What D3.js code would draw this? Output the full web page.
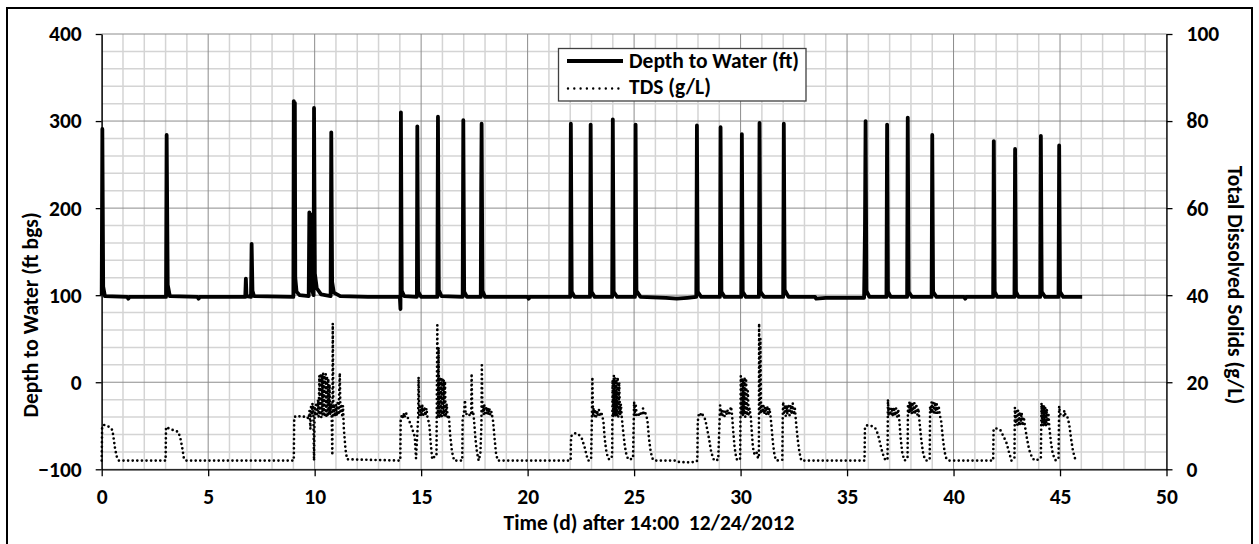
<!DOCTYPE html>
<html>
<head>
<meta charset="utf-8">
<script src="https://cdn.jsdelivr.net/npm/d3@7"></script>
<style>
  html, body { margin: 0; padding: 0; background: #fff; }
  svg { display: block; }
  text { font-family: Carlito, Calibri, "Open Sans", sans-serif; font-weight: 700; white-space: pre; }
</style>
</head>
<body>
<svg id="chart" width="1259" height="544"></svg>
<script>
// ---------------- data ----------------
const xTicks = [0, 5, 10, 15, 20, 25, 30, 35, 40, 45, 50];
const leftTicks = [-100, 0, 100, 200, 300, 400];
const rightTicks = [0, 20, 40, 60, 80, 100];
const xTitle = "Time (d) after 14:00  12/24/2012";
const leftTitle = "Depth to Water (ft bgs)";
const rightTitle = "Total Dissolved Solids (g/L)";
const seriesNames = ["Depth to Water (ft)", "TDS (g/L)"];

// Depth to water (ft bgs): [day, ft]
const depth = [
  [0.0, 100], [0.03, 291], [0.07, 110], [0.15, 99], [1.2, 98], [1.25, 96], [1.3, 98],
  [3.02, 98], [3.05, 284], [3.1, 112], [3.2, 99], [4.5, 98], [4.55, 96], [4.6, 98],
  [6.74, 98], [6.77, 119], [6.8, 99], [7.01, 98], [7.04, 159], [7.08, 105], [7.15, 99],
  [9.0, 98], [9.02, 323], [9.05, 300], [9.07, 321], [9.09, 120], [9.15, 104], [9.3, 100],
  [9.72, 99], [9.75, 195], [9.78, 120], [9.8, 193], [9.83, 110], [9.95, 100],
  [9.97, 315], [10.01, 125], [10.1, 108], [10.3, 101], [10.75, 99], [10.78, 287],
  [10.82, 115], [10.9, 103], [11.2, 99], [12.5, 98],
  [14.0, 98], [14.03, 84], [14.05, 310], [14.09, 105], [14.2, 99],
  [14.8, 98], [14.82, 294], [14.86, 104], [15.0, 98],
  [15.76, 98], [15.79, 305], [15.83, 106], [15.95, 99],
  [16.95, 98], [16.98, 301], [17.02, 104], [17.15, 98],
  [17.8, 98], [17.82, 222], [17.84, 297], [17.88, 105], [18.0, 98],
  [20.0, 98], [20.05, 96], [20.1, 98],
  [22.0, 98], [22.03, 297], [22.07, 104], [22.2, 98],
  [22.93, 98], [22.96, 296], [23.0, 104], [23.15, 98],
  [23.97, 98], [24.0, 302], [24.04, 104], [24.2, 98],
  [25.04, 98], [25.07, 296], [25.11, 105], [25.3, 98],
  [26.5, 97], [27.0, 96], [27.5, 97],
  [27.92, 98], [27.95, 295], [27.99, 104], [28.15, 98],
  [29.03, 98], [29.06, 293], [29.1, 104], [29.25, 98],
  [30.03, 98], [30.06, 285], [30.1, 104], [30.25, 98],
  [30.86, 98], [30.89, 298], [30.93, 104], [31.1, 98],
  [32.0, 98], [32.03, 297], [32.07, 106], [32.25, 98],
  [33.5, 98], [33.55, 96], [34.0, 97], [35.8, 97],
  [35.84, 175], [35.87, 300], [35.91, 105], [36.05, 98],
  [36.85, 98], [36.88, 296], [36.92, 104], [37.05, 98],
  [37.82, 98], [37.85, 304], [37.89, 104], [38.05, 98],
  [38.97, 98], [39.0, 284], [39.04, 104], [39.2, 98],
  [40.5, 98], [40.55, 96], [40.6, 98],
  [41.86, 98], [41.89, 277], [41.93, 104], [42.05, 98],
  [42.86, 98], [42.89, 268], [42.93, 104], [43.05, 98],
  [44.07, 98], [44.1, 283], [44.14, 104], [44.3, 98],
  [44.93, 98], [44.96, 272], [45.0, 104], [45.15, 98],
  [46.04, 98]
];

// TDS (g/L): [day, g/L]
const tds = [
  [0.0, 2.0], [0.02, 9.8], [0.1, 10.2], [0.25, 10.0], [0.4, 9.6], [0.5, 9.0], [0.55, 7.5],
  [0.62, 5.0], [0.7, 3.0], [0.8, 2.0], [3.0, 2.0],
  [3.02, 9.7], [3.15, 9.4], [3.35, 9.0], [3.6, 8.6], [3.7, 7.0], [3.78, 5.0], [3.86, 2.5],
  [3.95, 2.0], [9.02, 2.0],
  [9.04, 12.0], [9.2, 12.3], [9.4, 12.0], [9.6, 12.2], [9.72, 11.6], [9.76, 13.5], [9.8, 9.2],
  [9.83, 14.8], [9.86, 12.5], [9.9, 15.2], [9.94, 12.2], [9.97, 2.0], [10.0, 14.5], [10.04, 12.3],
  [10.08, 15.3], [10.12, 12.6], [10.16, 16.0], [10.19, 12.1], [10.22, 21.5], [10.25, 12.4],
  [10.28, 22.0], [10.31, 12.0], [10.34, 21.8], [10.37, 12.5], [10.4, 22.1], [10.43, 12.2],
  [10.46, 21.6], [10.49, 12.0], [10.52, 21.9], [10.55, 12.3], [10.58, 21.4], [10.61, 12.1],
  [10.64, 20.8], [10.67, 12.4], [10.7, 19.5], [10.73, 12.6], [10.77, 15.1], [10.8, 12.2],
  [10.83, 3.2], [10.85, 33.5], [10.88, 12.4], [10.92, 15.0], [10.96, 12.1], [11.0, 14.8],
  [11.04, 12.3], [11.08, 15.2], [11.12, 12.5], [11.18, 22.1], [11.21, 12.8], [11.25, 15.0],
  [11.29, 12.4], [11.33, 14.6], [11.37, 9.3], [11.45, 4.5], [11.52, 2.3], [14.0, 2.0],
  [14.02, 2.0], [14.04, 11.3], [14.1, 12.6], [14.15, 11.8], [14.2, 12.9], [14.25, 12.0],
  [14.3, 12.8], [14.35, 12.2], [14.42, 11.2], [14.5, 10.5], [14.6, 9.0], [14.7, 7.5],
  [14.76, 2.5], [14.86, 12.0], [14.88, 21.2], [14.91, 12.4], [14.95, 14.5], [15.0, 12.2],
  [15.05, 14.8], [15.1, 12.5], [15.15, 14.3], [15.2, 12.3], [15.25, 14.0], [15.3, 11.8],
  [15.38, 10.5], [15.45, 6.0], [15.52, 2.3], [15.6, 2.8], [15.72, 3.0], [15.76, 33.1],
  [15.79, 12.2], [15.82, 28.0], [15.85, 12.0], [15.88, 21.2], [15.91, 12.4], [15.94, 20.8],
  [15.97, 12.1], [16.0, 21.0], [16.03, 12.5], [16.06, 20.6], [16.09, 12.3], [16.12, 20.2],
  [16.15, 12.0], [16.2, 15.0], [16.25, 11.5], [16.3, 12.5], [16.36, 8.0], [16.45, 4.0],
  [16.55, 2.0], [16.93, 2.0], [16.95, 12.0], [17.0, 12.4], [17.06, 15.9], [17.09, 12.5],
  [17.15, 12.8], [17.22, 12.3], [17.3, 12.6], [17.35, 12.4], [17.37, 22.0], [17.4, 12.5],
  [17.45, 12.8], [17.48, 11.5], [17.55, 7.0], [17.62, 4.0], [17.7, 2.0], [17.78, 3.5],
  [17.83, 10.0], [17.85, 23.9], [17.88, 12.8], [17.91, 14.6], [17.94, 12.6], [17.97, 14.8],
  [18.0, 12.9], [18.04, 14.5], [18.08, 12.7], [18.12, 14.2], [18.16, 12.5], [18.2, 14.0],
  [18.25, 12.4], [18.3, 13.2], [18.38, 11.0], [18.45, 7.0], [18.52, 3.5], [18.6, 2.0],
  [22.0, 2.0],
  [22.02, 2.0], [22.04, 7.5], [22.1, 8.0], [22.25, 8.3], [22.4, 8.0], [22.55, 7.0],
  [22.68, 5.0], [22.78, 3.0], [22.85, 2.0], [22.98, 2.2], [23.02, 12.0], [23.04, 21.2],
  [23.07, 12.5], [23.1, 14.0], [23.14, 12.2], [23.18, 13.8], [23.22, 12.0], [23.26, 13.5],
  [23.3, 12.3], [23.35, 13.6], [23.4, 12.1], [23.45, 13.2], [23.5, 12.4], [23.56, 11.0],
  [23.62, 7.0], [23.7, 4.0], [23.78, 2.5], [23.85, 2.2], [23.97, 3.0], [23.99, 20.5],
  [24.02, 12.0], [24.05, 21.6], [24.08, 12.3], [24.11, 21.0], [24.14, 12.1], [24.17, 20.6],
  [24.2, 12.4], [24.23, 21.2], [24.26, 12.0], [24.3, 20.0], [24.34, 12.5], [24.38, 15.0],
  [24.42, 12.0], [24.48, 9.0], [24.56, 5.5], [24.65, 3.0], [24.75, 2.2], [24.95, 2.5],
  [25.0, 15.5], [25.04, 12.3], [25.08, 14.6], [25.12, 12.5], [25.18, 13.0], [25.25, 12.2],
  [25.3, 12.8], [25.38, 12.4], [25.42, 14.0], [25.46, 12.6], [25.52, 13.0], [25.58, 12.3],
  [25.63, 11.0], [25.7, 7.0], [25.78, 4.0], [25.86, 2.5], [25.94, 2.0], [27.0, 2.0],
  [27.1, 1.7], [27.5, 1.6], [27.9, 1.7], [27.97, 2.0],
  [27.99, 11.0], [28.03, 12.4], [28.08, 13.0], [28.13, 12.6], [28.18, 13.0], [28.23, 12.4],
  [28.3, 12.0], [28.36, 11.0], [28.44, 9.0], [28.52, 7.0], [28.6, 4.5], [28.68, 3.0],
  [28.76, 2.0], [28.95, 2.2], [29.02, 12.0], [29.04, 14.7], [29.07, 12.2], [29.11, 13.6],
  [29.15, 12.4], [29.2, 13.4], [29.25, 12.2], [29.3, 13.5], [29.35, 12.6], [29.4, 13.7],
  [29.45, 12.4], [29.5, 13.3], [29.55, 14.4], [29.6, 12.5], [29.65, 9.0], [29.72, 5.0],
  [29.8, 2.5], [29.86, 2.0], [29.98, 2.5], [30.01, 21.4], [30.04, 12.5], [30.07, 21.0],
  [30.1, 12.2], [30.13, 20.6], [30.16, 12.6], [30.19, 21.2], [30.22, 12.0], [30.26, 20.4],
  [30.3, 12.4], [30.34, 18.0], [30.38, 12.2], [30.42, 14.0], [30.48, 12.0], [30.52, 9.0],
  [30.58, 5.0], [30.65, 3.5], [30.75, 4.0], [30.82, 2.5], [30.86, 3.0], [30.87, 33.5],
  [30.9, 13.0], [30.93, 30.0], [30.96, 12.8], [30.99, 15.0], [31.03, 13.0], [31.07, 14.6],
  [31.11, 12.7], [31.15, 14.3], [31.2, 12.6], [31.25, 14.5], [31.3, 12.4], [31.35, 14.0],
  [31.4, 12.5], [31.45, 10.0], [31.52, 6.0], [31.6, 3.0], [31.68, 2.0], [31.96, 2.2],
  [31.98, 12.0], [32.0, 15.5], [32.04, 12.5], [32.08, 14.8], [32.12, 12.3], [32.16, 14.7],
  [32.2, 12.6], [32.25, 15.0], [32.3, 12.4], [32.35, 14.8], [32.4, 12.6], [32.45, 15.2],
  [32.5, 12.5], [32.55, 14.0], [32.6, 11.0], [32.68, 7.0], [32.76, 4.0], [32.85, 2.0],
  [35.82, 2.0],
  [35.84, 9.5], [35.9, 10.1], [36.05, 10.0], [36.2, 9.9], [36.35, 9.3], [36.45, 8.0],
  [36.55, 6.0], [36.65, 4.0], [36.75, 2.5], [36.84, 2.0], [36.9, 2.5], [36.92, 16.0],
  [36.95, 12.2], [37.0, 14.0], [37.05, 12.4], [37.1, 14.2], [37.15, 12.1], [37.2, 14.3],
  [37.25, 12.3], [37.3, 14.0], [37.35, 12.0], [37.4, 13.8], [37.45, 11.5], [37.52, 7.0],
  [37.6, 3.5], [37.7, 2.0], [37.84, 2.5], [37.86, 14.5], [37.9, 12.8], [37.93, 15.5],
  [37.97, 13.0], [38.0, 15.3], [38.04, 12.8], [38.08, 15.4], [38.12, 13.0], [38.16, 15.2],
  [38.2, 12.7], [38.25, 15.0], [38.3, 12.5], [38.35, 14.0], [38.4, 11.0], [38.48, 7.0],
  [38.56, 4.0], [38.64, 2.5], [38.72, 2.0], [38.88, 2.2], [38.9, 14.5], [38.94, 13.0],
  [38.97, 15.5], [39.01, 12.9], [39.05, 15.3], [39.09, 13.0], [39.13, 15.4], [39.17, 12.8],
  [39.21, 15.0], [39.25, 12.9], [39.3, 14.6], [39.35, 12.6], [39.42, 11.0], [39.5, 7.0],
  [39.58, 4.0], [39.66, 2.5], [39.78, 2.0], [41.86, 2.0],
  [41.88, 9.0], [41.95, 9.5], [42.1, 9.2], [42.2, 9.0], [42.3, 8.0], [42.4, 7.0], [42.5, 5.9],
  [42.6, 4.0], [42.72, 2.0], [42.86, 2.5], [42.88, 14.2], [42.92, 10.5], [42.95, 13.8],
  [42.99, 10.2], [43.03, 13.5], [43.07, 10.0], [43.11, 13.2], [43.15, 10.3], [43.2, 13.0],
  [43.25, 10.0], [43.3, 12.0], [43.35, 10.0], [43.45, 7.0], [43.55, 4.5], [43.7, 2.5],
  [43.85, 2.0], [44.1, 2.5], [44.13, 15.2], [44.16, 10.5], [44.19, 14.8], [44.22, 10.0],
  [44.25, 14.6], [44.28, 10.2], [44.31, 14.2], [44.34, 10.0], [44.38, 13.8], [44.42, 10.4],
  [44.46, 12.5], [44.5, 9.5], [44.58, 6.0], [44.66, 3.5], [44.75, 2.5], [44.8, 2.0],
  [44.93, 2.5], [44.96, 14.5], [45.0, 12.8], [45.05, 12.4], [45.12, 12.6], [45.18, 12.3],
  [45.2, 13.5], [45.25, 12.5], [45.32, 12.4], [45.38, 11.5], [45.45, 9.7], [45.52, 7.0],
  [45.6, 4.5], [45.68, 2.8], [45.75, 2.0]
];

// ---------------- layout ----------------
const svg = d3.select("#chart");
const W = 1259, H = 544;
const plot = { left: 101.7, right: 1166.5, top: 34, bottom: 469.3 };
const FS = 21.5;

const x = d3.scaleLinear().domain([0, 50]).range([plot.left, plot.right]);
const yL = d3.scaleLinear().domain([-100, 400]).range([plot.bottom, plot.top]);
const yR = d3.scaleLinear().domain([0, 100]).range([plot.bottom, plot.top]);

svg.append("rect").attr("width", W).attr("height", H).attr("fill", "#fff");
svg.append("rect").attr("x", 7).attr("y", 8).attr("width", 1245).attr("height", 545)
  .attr("fill", "none").attr("stroke", "#000").attr("stroke-width", 2);

// gridlines
const grid = svg.append("g");
const minorX = d3.range(0, 51, 1).filter(d => d % 5 !== 0);
const minorY = d3.range(-100, 401, 20).filter(d => d % 100 !== 0);
grid.selectAll(".mx").data(minorX).join("line")
  .attr("x1", d => x(d)).attr("x2", d => x(d)).attr("y1", plot.top).attr("y2", plot.bottom)
  .attr("stroke", "#d4d4d4").attr("stroke-width", 1.5);
grid.selectAll(".my").data(minorY).join("line")
  .attr("y1", d => yL(d)).attr("y2", d => yL(d)).attr("x1", plot.left).attr("x2", plot.right)
  .attr("stroke", "#d4d4d4").attr("stroke-width", 1.5);
grid.selectAll(".Mx").data(xTicks).join("line")
  .attr("x1", d => x(d)).attr("x2", d => x(d)).attr("y1", plot.top).attr("y2", plot.bottom)
  .attr("stroke", "#8c8c8c").attr("stroke-width", 1);
grid.selectAll(".My").data(leftTicks).join("line")
  .attr("y1", d => yL(d)).attr("y2", d => yL(d)).attr("x1", plot.left).attr("x2", plot.right)
  .attr("stroke", "#8c8c8c").attr("stroke-width", 1);

// axes
function styleAxis(g) {
  g.attr("font-family", null).attr("font-size", null);
  g.selectAll("text").attr("font-size", FS).attr("fill", "#000");
  g.select(".domain").attr("stroke", "#000").attr("stroke-width", 1.3);
  g.selectAll(".tick line").attr("stroke", "#000").attr("stroke-width", 1.3);
}
svg.append("g").attr("transform", `translate(${plot.left},0)`)
  .call(d3.axisLeft(yL).tickValues(leftTicks).tickSize(6).tickPadding(14).tickSizeOuter(0))
  .call(styleAxis);
svg.append("g").attr("transform", `translate(${plot.right},0)`)
  .call(d3.axisRight(yR).tickValues(rightTicks).tickSize(6).tickPadding(14).tickSizeOuter(0))
  .call(styleAxis);
svg.append("g").attr("transform", `translate(0,${plot.bottom})`)
  .call(d3.axisBottom(x).tickValues(xTicks).tickSize(7).tickPadding(12.4).tickSizeOuter(0))
  .call(styleAxis);

// axis titles
svg.append("text").attr("x", 649).attr("y", 529.5).attr("text-anchor", "middle")
  .attr("font-size", FS).text(xTitle);
svg.append("text").attr("transform", "translate(37.5,315) rotate(-90)").attr("text-anchor", "middle")
  .attr("font-size", FS).text(leftTitle);
svg.append("text").attr("transform", "translate(1228,285) rotate(90)").attr("text-anchor", "middle")
  .attr("font-size", FS).text(rightTitle);

// series
const lineL = d3.line().x(d => x(d[0])).y(d => yL(d[1]));
const lineR = d3.line().x(d => x(d[0])).y(d => yR(d[1]));
svg.append("path").datum(tds).attr("d", lineR).attr("fill", "none")
  .attr("stroke", "#000").attr("stroke-width", 2.7).attr("stroke-linecap", "round")
  .attr("stroke-dasharray", "0 4.6").attr("stroke-linejoin", "round");
svg.append("path").datum(depth).attr("d", lineL).attr("fill", "none")
  .attr("stroke", "#000").attr("stroke-width", 3.8).attr("stroke-linejoin", "round");

// legend
const lg = svg.append("g");
lg.append("rect").attr("x", 558.5).attr("y", 48.5).attr("width", 247.5).attr("height", 52.5)
  .attr("fill", "#fff").attr("stroke", "#404040").attr("stroke-width", 1.3);
lg.append("line").attr("x1", 567).attr("x2", 623).attr("y1", 61).attr("y2", 61)
  .attr("stroke", "#000").attr("stroke-width", 4);
lg.append("line").attr("x1", 568).attr("x2", 622).attr("y1", 88.5).attr("y2", 88.5)
  .attr("stroke", "#000").attr("stroke-width", 2.4).attr("stroke-linecap", "round")
  .attr("stroke-dasharray", "0 6.3");
lg.append("text").attr("x", 629).attr("y", 68.3).attr("font-size", FS).text(seriesNames[0]);
lg.append("text").attr("x", 629).attr("y", 94.3).attr("font-size", FS).text(seriesNames[1]);
</script>
</body>
</html>
